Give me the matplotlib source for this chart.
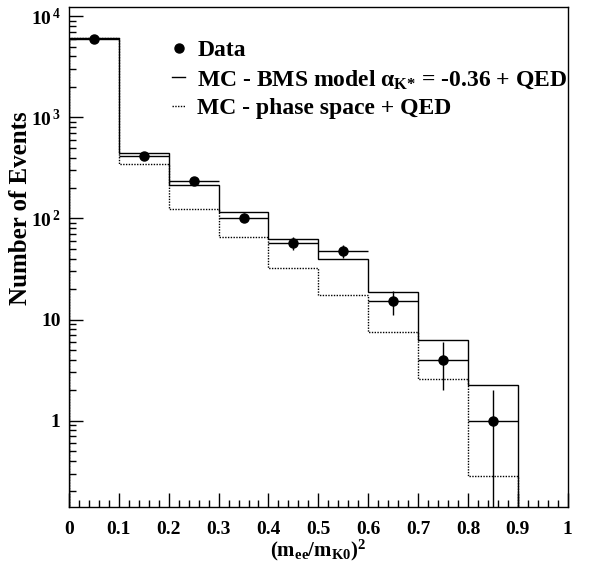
import numpy as np
import matplotlib.pyplot as plt
from matplotlib.ticker import FixedLocator, FixedFormatter, MultipleLocator

plt.rcParams['font.family'] = ['Liberation Serif', 'DejaVu Serif']
plt.rcParams['font.weight'] = 'bold'
plt.rcParams['mathtext.fontset'] = 'custom'
plt.rcParams['mathtext.rm'] = 'Liberation Serif:bold'
plt.rcParams['mathtext.it'] = 'Liberation Serif:bold'
plt.rcParams['mathtext.bf'] = 'Liberation Serif:bold'

# bins in (m_ee/m_K0)^2
bin_edges = [0.0, 0.1, 0.2, 0.3, 0.4, 0.5, 0.6, 0.7, 0.8, 0.9]
bin_centers = [0.05, 0.15, 0.25, 0.35, 0.45, 0.55, 0.65, 0.75, 0.85]

data_counts = [6000, 410, 232, 102, 57, 48, 15.2, 4.0, 1.0]
data_errors = [77, 20, 15, 10, 8, 7, 4.0, 2.0, 0.999]
mc_bms = [6100, 440, 214, 115, 63, 40, 18.8, 6.3, 2.24]
mc_phase = [6100, 348, 125, 66, 32.5, 17.5, 7.5, 2.6, 0.285]

fig = plt.figure(figsize=(5.89, 5.74), dpi=100)
ax = fig.add_axes([0.117, 0.1167, 0.847, 0.871])

s1 = ax.stairs(mc_bms, bin_edges, baseline=1e-3, color='black', linewidth=1.0)
s2 = ax.stairs(mc_phase, bin_edges, baseline=1e-3, color='black', linewidth=1.0,
               linestyle=(0, (1.0, 1.0)))
eb = ax.errorbar(bin_centers, data_counts, yerr=data_errors, xerr=0.05, fmt='o',
                 color='black', markersize=6.5, elinewidth=1.0, capsize=0)

ax.set_yscale('log')
ax.set_xlim(0, 1)
ax.set_ylim(0.14, 12300)

ax.xaxis.set_minor_locator(MultipleLocator(0.02))
xt = [0, 0.1, 0.2, 0.3, 0.4, 0.5, 0.6, 0.7, 0.8, 0.9, 1]
ax.set_xticks(xt)
ax.set_xticklabels(['0', '0.1', '0.2', '0.3', '0.4', '0.5', '0.6', '0.7', '0.8', '0.9', '1'])

yt = [1, 10, 100, 1000, 10000]
ax.yaxis.set_major_locator(FixedLocator(yt))
ax.yaxis.set_major_formatter(FixedFormatter(['1', '10', r'10$^{\,2}$', r'10$^{\,3}$', r'10$^{\,4}$']))

ax.tick_params(which='both', direction='in', top=False, right=False, width=1.0,
               labelsize=14)
ax.tick_params(axis='x', pad=10)
ax.tick_params(axis='y', pad=6)
ax.tick_params(which='major', length=10)
ax.tick_params(which='minor', length=5)
for s in ax.spines.values():
    s.set_linewidth(1.0)

ax.set_xlabel(r'(m$_{ee}$/m$_{K0}$)$^{2}$', fontsize=15, fontweight='bold')
ax.xaxis.set_label_coords(0.5, -0.062)
ax.set_ylabel('Number of Events', fontsize=18, fontweight='bold')
ax.yaxis.set_label_coords(-0.074, 0.598)

ax.legend([eb[0], s1, s2],
          ['Data', r'MC - BMS model $\alpha_{K{*}}$ = -0.36 + QED', 'MC - phase space + QED'],
          loc='upper left', bbox_to_anchor=(0.165, 0.978), frameon=False,
          handlelength=0.55, handletextpad=0.5, labelspacing=0.3,
          prop={'weight': 'bold', 'size': 17})

fig.savefig('out.png', dpi=100)
